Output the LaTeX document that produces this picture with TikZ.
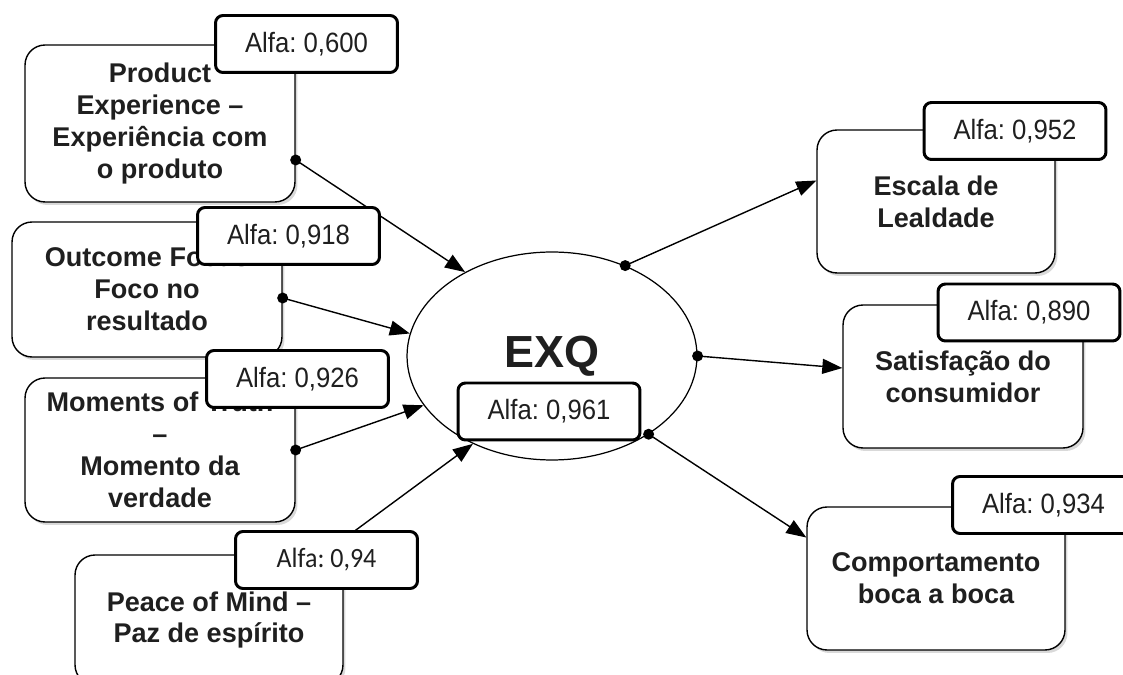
\documentclass[tikz,border=0pt]{standalone}
\usepackage{fontspec}
\setmainfont{Liberation Sans}
\newfontfamily\alfafont{Liberation Sans}[FakeStretch=0.92]
\newfontfamily\calib{Carlito}[FakeStretch=0.93]
\usetikzlibrary{arrows.meta, positioning, shapes.geometric, shadows}
\frenchspacing

\begin{document}
\begin{tikzpicture}[x=0.02cm, y=-0.02cm,
    dim/.style={draw, line width=0.8pt, rounded corners=0.4cm, fill=white, align=center, inner sep=0pt,
        font=\fontsize{15.4}{18.2}\selectfont\bfseries, text=black!88,
        drop shadow={shadow xshift=0.05cm, shadow yshift=-0.06cm, opacity=0.3}},
    alfa/.style={draw, line width=1.7pt, rounded corners=0.15cm, fill=white, inner sep=0pt,
        minimum width=3.64cm, minimum height=1.14cm, font=\alfafont\fontsize{15.9}{18}\selectfont, text=black!88},
    link/.style={line width=0.8pt, -{Triangle[length=0.4cm, width=0.3cm]}},
    dot/.style={circle, fill=black, inner sep=0pt, minimum size=0.22cm},
]
\useasboundingbox (0,0) rectangle (1123,675);

% Dimensions of EXQ
\node[dim, minimum width=5.4cm, minimum height=3.14cm] (pe) at (160,123.5) {Product\\Experience --\\Experiência com\\o produto};
\node[dim, minimum width=5.4cm, minimum height=2.7cm] (of) at (147,289.5) {Outcome Focus\\Foco no\\resultado};
\node[dim, minimum width=5.4cm, minimum height=2.88cm] (mt) at (160,450) {Moments of Truth\\--\\Momento da\\verdade};
\node[dim, minimum width=5.36cm, minimum height=2.6cm] (pm) at (209,620) {Peace of Mind --\\Paz de espírito};

% Outcomes
\node[dim, minimum width=4.76cm, minimum height=2.86cm] (esc) at (936,201.5) {Escala de\\Lealdade};
\node[dim, minimum width=4.8cm, minimum height=2.86cm] (sat) at (963,376.5) {Satisfação do\\consumidor};
\node[dim, minimum width=5.16cm, minimum height=2.86cm] (comp) at (936,578.5) {Comportamento\\boca a boca};

% Central construct
\node[draw, ellipse, line width=0.7pt, fill=white, inner sep=0pt, minimum width=5.8cm, minimum height=4.16cm,
    font=\fontsize{25.6}{28}\selectfont\bfseries, text=black!88] (exq) at (552,356) {EXQ};

% Connectors
\node[dot] (pe-dot) at ([yshift=-0.73cm]pe.east) {};
\node[dot] (of-dot) at ([yshift=-0.17cm]of.east) {};
\node[dot] (mt-dot) at (mt.east) {};
\draw[link] (pe-dot.center) -- (exq.136);
\draw[link] (of-dot.center) -- (exq.171);
\draw[link] (mt-dot.center) -- (exq.201);
\draw[link] ([xshift=2.28cm]pm.north) -- (exq.228);

\node[dot] (exq-esc) at (exq.51.5) {};
\node[dot] (exq-sat) at (exq.east) {};
\node[dot] (exq-comp) at (exq.321) {};
\draw[link] (exq-esc.center) -- ([yshift=0.42cm]esc.west);
\draw[link] (exq-sat.center) -- ([yshift=0.17cm]sat.west);
\draw[link] (exq-comp.center) -- ([yshift=0.82cm]comp.west);

% Alfa values
\node[alfa] (pe-a) at (306.5,44) {Alfa: 0,600};
\node[alfa] (of-a) at (288.5,236) {Alfa: 0,918};
\node[alfa] (mt-a) at (297.5,379) {Alfa: 0,926};
\node[alfa, font=\calib\fontsize{15.9}{18}\selectfont] (pm-a) at (326.5,560) {Alfa: 0,94};
\node[alfa] (exq-a) at (549,411.5) {Alfa: 0,961};
\node[alfa] (esc-a) at (1015,131) {Alfa: 0,952};
\node[alfa] (sat-a) at (1029,312.5) {Alfa: 0,890};
\node[alfa] (comp-a) at (1043.5,505) {Alfa: 0,934};

\end{tikzpicture}
\end{document}
